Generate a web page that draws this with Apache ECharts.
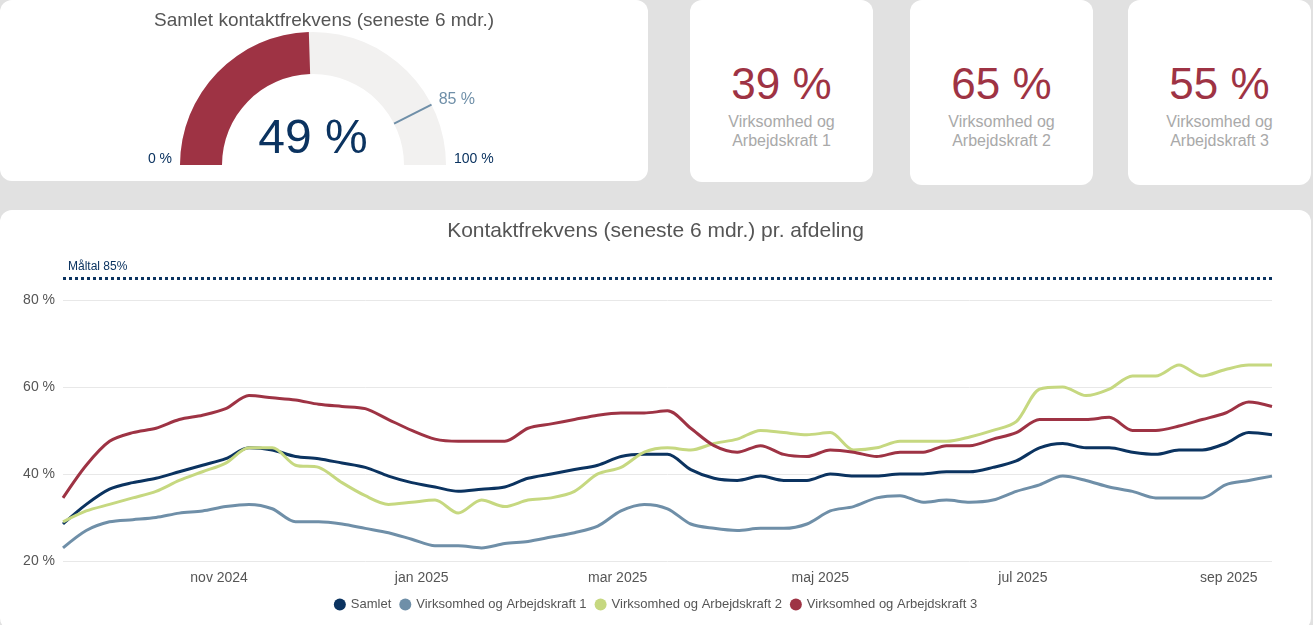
<!DOCTYPE html>
<html><head><meta charset="utf-8">
<script src="https://cdn.jsdelivr.net/npm/echarts@6/dist/echarts.min.js"></script>
<style>
body{margin:0;background:#e1e1e1;font-family:"Liberation Sans",Arial,sans-serif;width:1313px;height:625px;overflow:hidden;position:relative}
.card{position:absolute;background:#fff;border-radius:12px}
.kpi{text-align:center}
.kpi .v{font-size:44px;color:#9e3344;margin-top:60px;line-height:48px}
.kpi .t{font-size:16px;color:#a9a9a9;line-height:19px;margin-top:4px}
</style></head><body>
<div class="card" id="gcard" style="left:0;top:0;width:648px;height:181px"></div>
<div class="card kpi" style="left:690px;top:0;width:183px;height:182px"><div class="v" id="k1"></div><div class="t">Virksomhed og<br>Arbejdskraft 1</div></div>
<div class="card kpi" style="left:910px;top:0;width:183px;height:185px"><div class="v" id="k2"></div><div class="t">Virksomhed og<br>Arbejdskraft 2</div></div>
<div class="card kpi" style="left:1128px;top:0;width:183px;height:185px"><div class="v" id="k3"></div><div class="t">Virksomhed og<br>Arbejdskraft 3</div></div>
<div class="card" id="lcard" style="left:0;top:210px;width:1311px;height:420px"></div>
<script>
var totalValue = 49;
var goalValue = 85;
var kpiValues = [39, 65, 55];
var seriesNames = ['Samlet', 'Virksomhed og Arbejdskraft 1', 'Virksomhed og Arbejdskraft 2', 'Virksomhed og Arbejdskraft 3'];
var startDate = '2024-09-15';
var samlet = [28.5,33,36.5,38,39,40.5,42,43.5,46,45.5,44,43.5,42.5,41.5,39.5,38,37,36,36.5,37,39,40,41,42,44,44.5,44.5,41,39,38.5,39.5,38.5,38.5,40,39.5,39.5,40,40,40.5,40.5,41.5,43,46,47,46,46,45,44.5,45.5,45.5,47,49.5,49];
var va1 = [23,27,29,29.5,30,31,31.5,32.5,33,32,29,29,28.5,27.5,26.5,25,23.5,23.5,23,24,24.5,25.5,26.5,28,31.5,33,32,28.5,27.5,27,27.5,27.5,28.5,31.5,32.5,34.5,35,33.5,34,33.5,34,36,37.5,39.5,38.5,37,36,34.5,34.5,34.5,37.5,38.5,39.5];
var va2 = [29,31.5,33,34.5,36,38.5,40.5,42.5,46,46,42,41.5,38,35,33,33.5,34,31,34,32.5,34,34.5,36,40,41.5,45,46,45.5,47,48,50,49.5,49,49.5,45.5,46,47.5,47.5,47.5,48.5,50,52,59.5,60,58,59.5,62.5,62.5,65,62.5,64,65,65];
var va3 = [34.5,42,47.5,49.5,50.5,52.5,53.5,55,58,57.5,57,56,55.5,55,52.5,50,48,47.5,47.5,47.5,50.5,51.5,52.5,53.5,54,54,54.5,50.5,46.5,45,46.5,44.5,44,45.5,45,44,45,45,46.5,46.5,48,49.5,52.5,52.5,52.5,53,50,50,51,52.5,54,56.5,55.5];
var monthNames = ['jan','feb','mar','apr','maj','jun','jul','aug','sep','okt','nov','dec'];
var colors = ['#0b3360', '#6f8fa8', '#c6d880', '#9e3344'];

document.getElementById('k1').textContent = kpiValues[0] + ' %';
document.getElementById('k2').textContent = kpiValues[1] + ' %';
document.getElementById('k3').textContent = kpiValues[2] + ' %';

// gauge
var gc = echarts.init(document.getElementById('gcard'));
var cx = 313, cy = 165, rOut = 133, rIn = 91;
var a = Math.PI * (1 - goalValue / 100);
gc.setOption({
    title: {text: 'Samlet kontaktfrekvens (seneste 6 mdr.)', left: 'center', top: 6,
        textStyle: {fontSize: 19, fontWeight: 'normal', color: '#555'}},
    series: [{
        type: 'gauge', startAngle: 180, endAngle: 0, min: 0, max: 100,
        center: [cx, cy], radius: rOut,
        progress: {show: true, width: rOut - rIn, itemStyle: {color: '#9e3344'}},
        axisLine: {lineStyle: {width: rOut - rIn, color: [[1, '#f2f1f0']]}},
        axisTick: {show: false}, splitLine: {show: false}, axisLabel: {show: false},
        pointer: {show: false}, anchor: {show: false}, title: {show: false},
        detail: {formatter: '{value} %', fontSize: 48, fontWeight: 'normal', color: '#0b3360', offsetCenter: [0, -25]},
        data: [{value: totalValue}]
    }],
    graphic: [
        {type: 'line', z: 100, shape: {x1: cx + rIn * Math.cos(a), y1: cy - rIn * Math.sin(a), x2: cx + rOut * Math.cos(a), y2: cy - rOut * Math.sin(a)},
            style: {stroke: '#6f8fa8', lineWidth: 2}},
        {type: 'text', z: 100, x: cx + (rOut + 8) * Math.cos(a), y: cy - (rOut + 12) * Math.sin(a) - 8,
            style: {text: goalValue + ' %', fill: '#6f8fa8', font: '16px Liberation Sans'}},
        {type: 'text', z: 100, x: cx - rOut - 8, y: cy - 13, style: {text: '0 %', fill: '#0b3360', font: '14px Liberation Sans', align: 'right'}},
        {type: 'text', z: 100, x: cx + rOut + 8, y: cy - 13, style: {text: '100 %', fill: '#0b3360', font: '14px Liberation Sans'}}
    ]
});

// line chart
var t0 = new Date(startDate + 'T00:00:00').getTime();
function toPairs(arr) {
    return arr.map(function (v, i) { return [t0 + i * 7 * 86400000, v]; });
}
var allData = [samlet, va1, va2, va3];
var series = allData.map(function (d, i) {
    var s = {name: seriesNames[i], type: 'line', data: toPairs(d), showSymbol: false, smooth: 0.3,
        lineStyle: {width: 3, color: colors[i]}, itemStyle: {color: colors[i]}};
    if (i === 0) {
        s.markLine = {symbol: 'none', silent: true,
            lineStyle: {type: [3, 3], width: 3, color: '#0b3360'},
            label: {position: 'insideStartTop', formatter: 'Måltal ' + goalValue + '%', color: '#0b3360', fontSize: 12},
            data: [{yAxis: goalValue}]};
    }
    return s;
});
var lc = echarts.init(document.getElementById('lcard'));
lc.setOption({
    color: colors,
    title: {text: 'Kontaktfrekvens (seneste 6 mdr.) pr. afdeling', left: 'center', top: 6,
        textStyle: {fontSize: 21, fontWeight: 'normal', color: '#555'}},
    legend: {bottom: 14, icon: 'circle', itemWidth: 12, itemHeight: 12, itemGap: 8,
        textStyle: {color: '#555', fontSize: 13}},
    grid: {left: 63, right: 39, top: 55, bottom: 69},
    xAxis: {type: 'time', min: t0, max: t0 + 52 * 7 * 86400000,
        axisLine: {show: false}, axisTick: {show: false}, splitLine: {show: false},
        axisLabel: {color: '#555', fontSize: 14, margin: 10, hideOverlap: false,
            formatter: function (v) {
                var d = new Date(v);
                if (d.getDate() !== 1 || d.getMonth() % 2 !== 0 && d.getMonth() !== 10 && d.getMonth() !== 8) return '';
                if ([10, 0, 2, 4, 6, 8].indexOf(d.getMonth()) < 0) return '';
                return monthNames[d.getMonth()] + ' ' + d.getFullYear();
            }}},
    yAxis: {type: 'value', min: 20, max: 88, interval: 20,
        axisLabel: {color: '#555', fontSize: 14, formatter: function (v) { return v > 80 ? '' : v + ' %'; }},
        splitLine: {lineStyle: {color: '#e8e8e8'}, showMaxLine: false}},
    series: series
});
</script>
</body></html>
